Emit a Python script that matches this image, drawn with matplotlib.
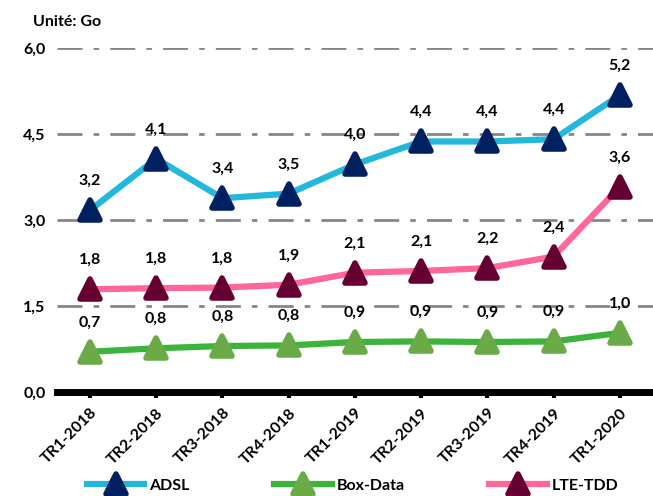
import matplotlib
matplotlib.use("Agg")
import matplotlib.pyplot as plt
from matplotlib.markers import MarkerStyle
from matplotlib.ticker import FuncFormatter

categories = ["TR1-2018", "TR2-2018", "TR3-2018", "TR4-2018", "TR1-2019",
              "TR2-2019", "TR3-2019", "TR4-2019", "TR1-2020"]
adsl = [3.17, 4.07, 3.38, 3.46, 3.97, 4.37, 4.37, 4.41, 5.18]
box_data = [0.70, 0.76, 0.80, 0.81, 0.87, 0.88, 0.87, 0.88, 1.03]
lte_tdd = [1.79, 1.81, 1.82, 1.87, 2.08, 2.11, 2.16, 2.36, 3.58]
series_names = ["ADSL", "Box-Data", "LTE-TDD"]
yticks = [0.0, 1.5, 3.0, 4.5, 6.0]

plt.rcParams['font.family'] = ['Lato', 'DejaVu Sans']

fig = plt.figure(figsize=(6.53, 4.96), dpi=100)
ax = fig.add_axes([0.087, 0.21, 0.913, 0.693])

x = list(range(len(categories)))
styles = [
    (adsl, "#22B8DC", "#002060"),
    (box_data, "#3BB43C", "#6AAB48"),
    (lte_tdd, "#FF6699", "#660033"),
]
mk = MarkerStyle('^', joinstyle='round')
handles = []
for (vals, lc, mc), name in zip(styles, series_names):
    h, = ax.plot(x, vals, color=lc, lw=4.5, marker=mk, markersize=14,
                 markerfacecolor=mc, markeredgecolor=mc, markeredgewidth=4,
                 solid_joinstyle='round', label=name, zorder=3)
    handles.append(h)
    for xi, v in zip(x, vals):
        ax.annotate(f"{v:.1f}".replace('.', ','), (xi, v), xytext=(0, 16),
                    textcoords='offset points', ha='center', va='bottom',
                    fontsize=11.5, fontweight='bold', color='black')

ax.set_xlim(-0.5, len(categories) - 0.5)
ax.set_ylim(0, 6.0)
ax.set_yticks(yticks)
ax.yaxis.set_major_formatter(FuncFormatter(lambda v, p: f"{v:.1f}".replace('.', ',')))
for yv in yticks[1:]:
    ax.axhline(yv, color='#868686', lw=2, dashes=(9, 4, 2, 4), zorder=1)

ax.set_xticks(x)
ax.set_xticklabels(categories, rotation=45, ha='right', rotation_mode='anchor',
                   fontsize=11.5, fontweight='bold')
for lbl in ax.get_yticklabels():
    lbl.set_fontweight('bold')
    lbl.set_fontsize(11.5)

for s in ['top', 'right', 'left']:
    ax.spines[s].set_visible(False)
ax.spines['bottom'].set_linewidth(5)
ax.spines['bottom'].set_color('black')
ax.tick_params(axis='y', length=0, pad=8)
ax.tick_params(axis='x', length=4, width=3, direction='out', pad=6)

fig.text(0.05, 0.955, "Unité: Go", fontsize=11.5, fontweight='bold', ha='left', va='center')

fig.legend(handles=handles, loc='lower center', bbox_to_anchor=(0.54, -0.022), ncol=3,
           frameon=False, handlelength=3.6, columnspacing=5.3, handletextpad=0.3,
           prop={'weight': 'bold', 'size': 11.5})

fig.savefig("out.png", dpi=100)
